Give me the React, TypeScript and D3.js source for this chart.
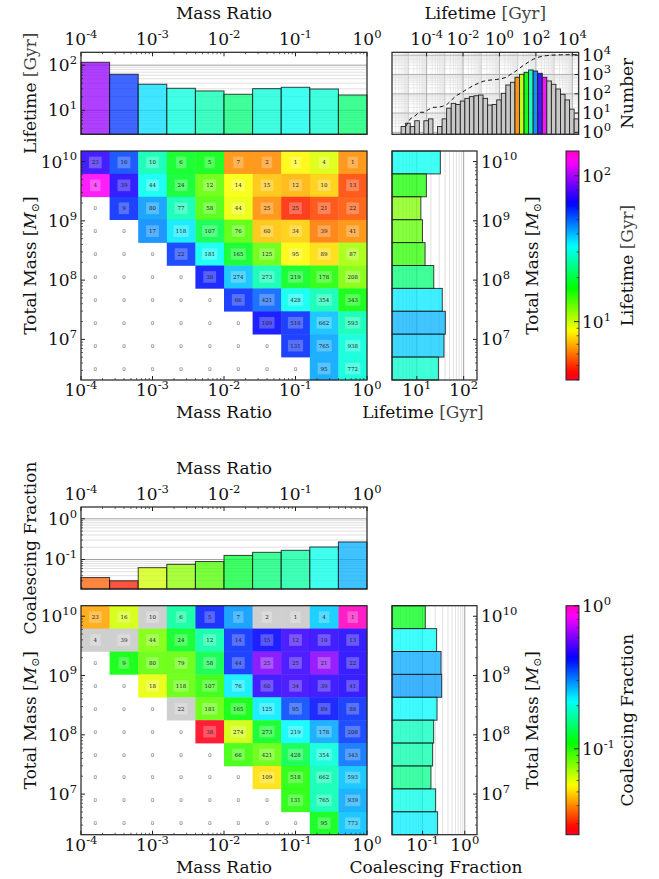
import React from "react";
import * as d3 from "d3";

// ---------------- data ----------------
const massRatioTickExps = [-4, -3, -2, -1, 0];
const massTickExps = [7, 8, 9, 10];
const lifetimeTickExps = [1, 2];
const coalTickExps = [-1, 0];
const histXTickExps = [-4, -2, 0, 2, 4];
const histYTickExps = [0, 1, 2, 3, 4];

// axis limits (log10)
const massRatioLog = [-4, 0];
const massLog = [6.315, 10.178];
const lifetimeAxisLog = [0.47, 2.285];
const lifetimeCbarLog = [0.6, 2.17];
const coalAxisLog = [-1.725, 0.29];
const coalCbarLog = [-1.6, 0];
const histXLog = [-5.9, 4.35];
const histYLog = [-0.1, 4.15];

// rows: top = highest total mass
const countsLifetime = [
  [23, 16, 10, 6, 5, 7, 2, 1, 4, 1],
  [4, 39, 44, 24, 12, 14, 15, 12, 10, 13],
  [0, 9, 80, 77, 58, 44, 25, 25, 21, 22],
  [0, 0, 17, 118, 107, 76, 60, 34, 39, 41],
  [0, 0, 0, 22, 181, 165, 125, 95, 89, 87],
  [0, 0, 0, 0, 38, 274, 273, 219, 178, 208],
  [0, 0, 0, 0, 0, 66, 421, 428, 354, 343],
  [0, 0, 0, 0, 0, 0, 109, 518, 662, 593],
  [0, 0, 0, 0, 0, 0, 0, 131, 765, 938],
  [0, 0, 0, 0, 0, 0, 0, 0, 95, 772],
];
const countsCoal = [
  [23, 16, 10, 6, 5, 7, 2, 1, 4, 1],
  [4, 39, 44, 24, 12, 14, 15, 12, 10, 13],
  [0, 9, 80, 79, 58, 44, 25, 25, 21, 22],
  [0, 0, 18, 118, 107, 76, 60, 34, 39, 41],
  [0, 0, 0, 22, 181, 165, 125, 95, 89, 88],
  [0, 0, 0, 0, 38, 274, 273, 219, 178, 208],
  [0, 0, 0, 0, 0, 66, 421, 428, 354, 343],
  [0, 0, 0, 0, 0, 0, 109, 518, 662, 593],
  [0, 0, 0, 0, 0, 0, 0, 131, 765, 939],
  [0, 0, 0, 0, 0, 0, 0, 0, 95, 773],
];
// lifetime [Gyr] per cell (null = empty)
const lifetimeGrid: (number | null)[][] = [
  [72, 54, 27, 18.2, 17.5, 6.4, 6.4, 8.5, 9.5, 6.4],
  [128, 69, 32, 18.8, 13.1, 8.8, 7.4, 7.1, 7.6, 5.3],
  [null, 58, 43, 27, 14.1, 9.1, 6.4, 4.9, 5.3, 5.5],
  [null, null, 45, 35, 20.3, 13.6, 7.4, 7.6, 6.1, 6.4],
  [null, null, null, 56, 32, 18.2, 13.1, 8.5, 7.9, 11],
  [null, null, null, null, 62, 39, 27, 18.2, 15.7, 12.2],
  [null, null, null, null, null, 58, 50, 32, 27, 16.9],
  [null, null, null, null, null, null, 64, 58, 39, 27],
  [null, null, null, null, null, null, null, 58, 42, 30],
  [null, null, null, null, null, null, null, null, 42, 30],
];
// coalescing fraction per cell (null = empty, 0 = none coalesce)
const coalGrid: (number | null)[][] = [
  [0.0435, 0.0625, 0, 0.167, 0.4, 0.286, 0, 0, 0.25, 1.0],
  [0, 0, 0.079, 0.118, 0.171, 0.384, 0.429, 0.497, 0.479, 0.461],
  [null, 0.11, 0.085, 0.085, 0.132, 0.384, 0.597, 0.497, 0.62, 0.461],
  [null, null, 0.059, 0.085, 0.098, 0.229, 0.479, 0.497, 0.479, 0.461],
  [null, null, null, 0, 0.085, 0.11, 0.229, 0.356, 0.413, 0.384],
  [null, null, null, null, 0.0263, 0.063, 0.118, 0.221, 0.275, 0.37],
  [null, null, null, null, null, 0.095, 0.085, 0.132, 0.198, 0.319],
  [null, null, null, null, null, null, 0.051, 0.102, 0.177, 0.256],
  [null, null, null, null, null, null, null, 0.102, 0.177, 0.275],
  [null, null, null, null, null, null, null, null, 0.114, 0.256],
];
const lifetimeByRatio = [116, 63, 37.8, 30.8, 26.9, 22.7, 30.2, 32.4, 29.7, 21.9];
const lifetimeByMass = [31.8, 16, 12.2, 13.2, 15, 23, 35, 40.6, 38, 28.9];
const coalByRatio = [0.036, 0.03, 0.063, 0.076, 0.089, 0.126, 0.15, 0.168, 0.203, 0.27];
const coalByMass = [0.116, 0.215, 0.274, 0.283, 0.22, 0.183, 0.173, 0.158, 0.204, 0.227];

// lifetime histogram (log10 bins)
const histBinStartLog = -5.4;
const histBinWidthLog = 0.25;
const histCounts = [2, 3, 2, 4, 0, 4, 5, 0, 2, 5, 18, 32, 28, 42, 58, 71, 79, 86, 58, 26, 28, 48, 106, 286, 394,
  717, 1024, 1300, 1711, 1515, 1154, 717, 460, 310, 177, 94, 48, 16, 5];
const histColorLog = [0.73, 2.58];

// ---------------- helpers ----------------
const FONT = "DejaVu Serif, serif";
const FS = 17;
const stops: [number, number[]][] = [
  [0, [1, 0, 0.16]], [0.03, [1, 0, 0]], [0.215, [1, 1, 0]], [0.4, [0, 1, 0]],
  [0.586, [0, 1, 1]], [0.77, [0, 0, 1]], [0.954, [1, 0, 1]], [1, [1, 0, 0.75]],
];
function rainbow(t: number) {
  t = Math.max(0, Math.min(1, t));
  for (let i = 1; i < stops.length; i++) {
    if (t <= stops[i][0]) {
      const [t0, c0] = stops[i - 1];
      const [t1, c1] = stops[i];
      const f = (t - t0) / (t1 - t0);
      const c = c0.map((v, k) => Math.round(255 * (v + (c1[k] - v) * f)));
      return `rgb(${c[0]},${c[1]},${c[2]})`;
    }
  }
  return "rgb(255,0,191)";
}
const p10 = (e: number) => Math.pow(10, e);
function minors(lo: number, hi: number) {
  const out: number[] = [];
  for (let k = Math.floor(lo); k <= Math.ceil(hi); k++)
    for (let m = 2; m <= 9; m++) {
      const v = Math.log10(m) + k;
      if (v > lo && v < hi) out.push(p10(v));
    }
  return out;
}
function decades(lo: number, hi: number) {
  const out: number[] = [];
  for (let k = Math.ceil(lo); k <= Math.floor(hi); k++) out.push(p10(k));
  return out;
}

function Pow10({ x, y, e, anchor = "middle", size = FS }: any) {
  return (
    <text x={x} y={y} textAnchor={anchor} fontFamily={FONT} fontSize={size} fill="#111">
      <tspan>10</tspan>
      <tspan dy={-size * 0.42} fontSize={size * 0.68}>{e < 0 ? "-" + -e : String(e)}</tspan>
    </text>
  );
}
function VLabel({ x, y, children }: any) {
  return (
    <text transform={`translate(${x},${y}) rotate(-90)`} textAnchor="middle" fontFamily={FONT} fontSize={FS} fill="#111">
      {children}
    </text>
  );
}
const gyr = <tspan fill="#444">[Gyr]</tspan>;
const msun = (
  <>
    <tspan>[</tspan>
    <tspan fontStyle="italic">M</tspan>
    <tspan dy={3} fontSize={11}>⊙</tspan>
    <tspan dy={-3}>]</tspan>
  </>
);

// ---------------- panel ----------------
function Panel({ kind, off }: { kind: "life" | "coal"; off: number }) {
  const life = kind === "life";
  const counts = life ? countsLifetime : countsCoal;
  const grid = life ? lifetimeGrid : coalGrid;
  const byRatio = life ? lifetimeByRatio : coalByRatio;
  const byMass = life ? lifetimeByMass : coalByMass;
  const vAx = life ? lifetimeAxisLog : coalAxisLog;
  const cAx = life ? lifetimeCbarLog : coalCbarLog;
  const barNorm = life ? lifetimeAxisLog : coalCbarLog;
  const vTicks = life ? lifetimeTickExps : coalTickExps;
  const valueLabel = life ? <>Lifetime {gyr}</> : <>Coalescing Fraction</>;

  const L = 81, R = 367;
  const bT = 52.3 + off, bB = 134.3 + off;
  const hT = 151 + off, hB = 380 + off;
  const rL = 392, rR = 477;
  const cL = 566, cR = 579;

  const xMR = d3.scaleLog().domain([p10(massRatioLog[0]), p10(massRatioLog[1])]).range([L, R]);
  const yV = d3.scaleLog().domain([p10(vAx[0]), p10(vAx[1])]).range([bB, bT]);
  const yM = d3.scaleLog().domain([p10(massLog[0]), p10(massLog[1])]).range([hB, hT]);
  const xV = d3.scaleLog().domain([p10(vAx[0]), p10(vAx[1])]).range([rL, rR]);
  const yC = d3.scaleLog().domain([p10(cAx[0]), p10(cAx[1])]).range([hB, hT]);
  const norm = (v: number) => (Math.log10(v) - cAx[0]) / (cAx[1] - cAx[0]);
  const normBar = (v: number) => (Math.log10(v) - barNorm[0]) / (barNorm[1] - barNorm[0]);

  const nC = 10, nR = 10;
  const colEdge = (i: number) => xMR(p10(massRatioLog[0] + ((massRatioLog[1] - massRatioLog[0]) * i) / nC));
  const rowEdge = (i: number) => yM(p10(massLog[1] - ((massLog[1] - massLog[0]) * i) / nR));

  const vDec = decades(vAx[0], vAx[1]);
  const vMin = minors(vAx[0], vAx[1]);
  const cDec = decades(cAx[0], cAx[1]);
  const cMin = minors(cAx[0], cAx[1]);
  const mrMin = minors(massRatioLog[0], massRatioLog[1]);
  const mMin = minors(massLog[0], massLog[1]);

  const gradId = "grad-" + kind;
  const gStops = d3.range(0, 1.0001, 0.02);

  return (
    <g>
      {/* ---------- top bar chart ---------- */}
      {vMin.map((v, i) => (
        <line key={"gm" + i} x1={L} x2={R} y1={yV(v)} y2={yV(v)} stroke="#d8d8d8" strokeWidth={0.8} />
      ))}
      {vDec.map((v, i) => (
        <line key={"gd" + i} x1={L} x2={R} y1={yV(v)} y2={yV(v)} stroke="#999" strokeWidth={0.9} />
      ))}
      {byRatio.map((v, i) => (
        <rect key={"b" + i} x={colEdge(i)} y={yV(v)} width={colEdge(i + 1) - colEdge(i)} height={bB - yV(v)}
          fill={rainbow(normBar(v))} fillOpacity={0.75} stroke="#111" strokeOpacity={0.8} strokeWidth={1} />
      ))}
      <rect x={L} y={bT} width={R - L} height={bB - bT} fill="none" stroke="#222" strokeWidth={1.2} />
      {vDec.map((v, i) => (
        <line key={"yt" + i} x1={L} x2={L + 4} y1={yV(v)} y2={yV(v)} stroke="#222" />
      ))}
      {vMin.map((v, i) => (
        <line key={"ytm" + i} x1={L} x2={L + 2} y1={yV(v)} y2={yV(v)} stroke="#222" strokeWidth={0.7} />
      ))}
      {massRatioTickExps.map((e) => (
        <line key={"xt" + e} x1={xMR(p10(e))} x2={xMR(p10(e))} y1={bT} y2={bT + 4} stroke="#222" />
      ))}
      {mrMin.map((v, i) => (
        <line key={"xtm" + i} x1={xMR(v)} x2={xMR(v)} y1={bT} y2={bT + 2} stroke="#222" strokeWidth={0.7} />
      ))}
      {vTicks.map((e) => (
        <Pow10 key={"yl" + e} x={77} y={yV(p10(e)) + 6} e={e} anchor="end" />
      ))}
      {massRatioTickExps.map((e) => (
        <Pow10 key={"xl" + e} x={xMR(p10(e))} y={45 + off} e={e} />
      ))}
      <text x={(L + R) / 2} y={19 + off} textAnchor="middle" fontFamily={FONT} fontSize={FS} fill="#111">Mass Ratio</text>
      <VLabel x={36} y={(bT + bB) / 2}>{valueLabel}</VLabel>

      {/* ---------- heatmap ---------- */}
      {grid.map((row, r) =>
        row.map((v, c) => {
          if (v === null) return null;
          const fill = v === 0 ? "#c8c8c8" : rainbow(norm(v));
          return (
            <rect key={`h${r}-${c}`} x={colEdge(c)} y={rowEdge(r)} width={colEdge(c + 1) - colEdge(c) + 0.3}
              height={rowEdge(r + 1) - rowEdge(r) + 0.3} fill={fill} fillOpacity={0.88} />
          );
        })
      )}
      {counts.map((row, r) =>
        row.map((n, c) => {
          const cx = (colEdge(c) + colEdge(c + 1)) / 2;
          const cy = (rowEdge(r) + rowEdge(r + 1)) / 2;
          const s = String(n);
          const bw = 8 + 2.4 * s.length;
          return (
            <g key={`t${r}-${c}`}>
              {n > 0 && <rect x={cx - bw / 2} y={cy - 5.8} width={bw} height={11.6} fill="#fff" fillOpacity={0.25} />}
              <text x={cx} y={cy + 2} textAnchor="middle" fontFamily={FONT} fontSize={5.5} fill={n > 0 ? "#222" : "#666"}>{s}</text>
            </g>
          );
        })
      )}
      <rect x={L} y={hT} width={R - L} height={hB - hT} fill="none" stroke="#222" strokeWidth={1.2} />
      {massTickExps.map((e) => (
        <g key={"my" + e}>
          <line x1={L} x2={L + 4} y1={yM(p10(e))} y2={yM(p10(e))} stroke="#222" />
          <Pow10 x={77} y={yM(p10(e)) + 6} e={e} anchor="end" />
        </g>
      ))}
      {mMin.map((v, i) => (
        <line key={"mym" + i} x1={L} x2={L + 2} y1={yM(v)} y2={yM(v)} stroke="#222" strokeWidth={0.7} />
      ))}
      {massRatioTickExps.map((e) => (
        <g key={"mx" + e}>
          <line x1={xMR(p10(e))} x2={xMR(p10(e))} y1={hB} y2={hB - 4} stroke="#222" />
          <Pow10 x={xMR(p10(e))} y={396 + off} e={e} />
        </g>
      ))}
      {mrMin.map((v, i) => (
        <line key={"mxm" + i} x1={xMR(v)} x2={xMR(v)} y1={hB} y2={hB - 2} stroke="#222" strokeWidth={0.7} />
      ))}
      <text x={(L + R) / 2} y={418 + off} textAnchor="middle" fontFamily={FONT} fontSize={FS} fill="#111">Mass Ratio</text>
      <VLabel x={36} y={(hT + hB) / 2}>Total Mass {msun}</VLabel>

      {/* ---------- right bar chart ---------- */}
      {vMin.map((v, i) => (
        <line key={"rgm" + i} x1={xV(v)} x2={xV(v)} y1={hT} y2={hB} stroke="#d8d8d8" strokeWidth={0.8} />
      ))}
      {vDec.map((v, i) => (
        <line key={"rgd" + i} x1={xV(v)} x2={xV(v)} y1={hT} y2={hB} stroke="#999" strokeWidth={0.9} />
      ))}
      {byMass.map((v, r) => (
        <rect key={"rb" + r} x={rL} y={rowEdge(r)} width={xV(v) - rL} height={rowEdge(r + 1) - rowEdge(r)}
          fill={rainbow(norm(v))} fillOpacity={0.75} stroke="#111" strokeOpacity={0.8} strokeWidth={1} />
      ))}
      <rect x={rL} y={hT} width={rR - rL} height={hB - hT} fill="none" stroke="#222" strokeWidth={1.2} />
      {massTickExps.map((e) => (
        <g key={"ry" + e}>
          <line x1={rR} x2={rR - 4} y1={yM(p10(e))} y2={yM(p10(e))} stroke="#222" />
          <Pow10 x={481} y={yM(p10(e)) + 6} e={e} anchor="start" />
        </g>
      ))}
      {mMin.map((v, i) => (
        <line key={"rym" + i} x1={rR} x2={rR - 2} y1={yM(v)} y2={yM(v)} stroke="#222" strokeWidth={0.7} />
      ))}
      {vTicks.map((e) => (
        <g key={"rx" + e}>
          <line x1={xV(p10(e))} x2={xV(p10(e))} y1={hB} y2={hB - 4} stroke="#222" />
          <Pow10 x={xV(p10(e))} y={396 + off} e={e} />
        </g>
      ))}
      <text x={life ? 423 : 436} y={418 + off} textAnchor="middle" fontFamily={FONT} fontSize={FS} fill="#111">{valueLabel}</text>
      <VLabel x={538} y={(hT + hB) / 2}>Total Mass {msun}</VLabel>

      {/* ---------- colorbar ---------- */}
      <defs>
        <linearGradient id={gradId} x1="0" y1="1" x2="0" y2="0">
          {gStops.map((t, i) => (
            <stop key={i} offset={t} stopColor={rainbow(t)} />
          ))}
        </linearGradient>
      </defs>
      <rect x={cL} y={hT} width={cR - cL} height={hB - hT} fill={`url(#${gradId})`} stroke="#222" strokeWidth={1} />
      {cDec.map((v, i) => (
        <line key={"cd" + i} x1={cR} x2={cR - 5} y1={yC(v)} y2={yC(v)} stroke="#222" />
      ))}
      {cMin.map((v, i) => (
        <line key={"cm" + i} x1={cR} x2={cR - 2.5} y1={yC(v)} y2={yC(v)} stroke="#222" strokeWidth={0.7} />
      ))}
      {cDec.map((v, i) => (
        <Pow10 key={"cl" + i} x={582} y={yC(v) + 6} e={Math.round(Math.log10(v))} anchor="start" />
      ))}
      <VLabel x={633} y={(hT + hB) / 2}>{valueLabel}</VLabel>
    </g>
  );
}

// ---------------- histogram ----------------
function Histogram() {
  const L = 392, R = 578.7, T = 52.3, B = 134.3;
  const x = d3.scaleLog().domain([p10(histXLog[0]), p10(histXLog[1])]).range([L, R]);
  const y = d3.scaleLog().domain([p10(histYLog[0]), p10(histYLog[1])]).range([B, T]);
  const edges = d3.range(histCounts.length + 1).map((i) => histBinStartLog + i * histBinWidthLog);
  const cum = d3.cumsum(histCounts);
  const pts: [number, number][] = [];
  histCounts.forEach((_, i) => {
    if (cum[i] > 0) pts.push([x(p10(edges[i + 1])), y(cum[i])]);
  });
  const line = d3.line();
  const xMinor = minors(histXLog[0], histXLog[1]);
  const xDec = decades(histXLog[0], histXLog[1]);
  const yMinor = minors(histYLog[0], histYLog[1]);
  const yDec = decades(histYLog[0], histYLog[1]);
  return (
    <g>
      <defs>
        <clipPath id="hclip"><rect x={L} y={T} width={R - L} height={B - T} /></clipPath>
      </defs>
      <g clipPath="url(#hclip)">
        {xMinor.map((v, i) => (
          <line key={"xm" + i} x1={x(v)} x2={x(v)} y1={T} y2={B} stroke="#e2e2e2" strokeWidth={0.8} />
        ))}
        {yMinor.map((v, i) => (
          <line key={"ym" + i} x1={L} x2={R} y1={y(v)} y2={y(v)} stroke="#e2e2e2" strokeWidth={0.8} />
        ))}
        {xDec.map((v, i) => (
          <line key={"xd" + i} x1={x(v)} x2={x(v)} y1={T} y2={B}
            stroke={Math.round(Math.log10(v)) % 2 === 0 ? "#aaa" : "#ccc"} strokeWidth={0.9} />
        ))}
        {yDec.map((v, i) => (
          <line key={"yd" + i} x1={L} x2={R} y1={y(v)} y2={y(v)} stroke="#aaa" strokeWidth={0.9} />
        ))}
        {histCounts.map((n, i) => {
          if (n <= 0) return null;
          const c = (edges[i] + edges[i + 1]) / 2;
          const colored = c >= histColorLog[0] && c <= histColorLog[1];
          const fill = colored ? rainbow((c - histColorLog[0]) / (histColorLog[1] - histColorLog[0])) : "#c8c8c8";
          return (
            <rect key={"hb" + i} x={x(p10(edges[i]))} y={y(n)} width={x(p10(edges[i + 1])) - x(p10(edges[i]))}
              height={B - y(n)} fill={fill} fillOpacity={colored ? 0.9 : 1} stroke="#222" strokeWidth={0.9} />
          );
        })}
        <path d={line(pts) || ""} fill="none" stroke="#111" strokeWidth={1} strokeDasharray="4,3" />
      </g>
      <rect x={L} y={T} width={R - L} height={B - T} fill="none" stroke="#222" strokeWidth={1.2} />
      {histXTickExps.map((e) => (
        <g key={"hx" + e}>
          <line x1={x(p10(e))} x2={x(p10(e))} y1={T} y2={T + 4} stroke="#222" />
          <Pow10 x={x(p10(e))} y={45} e={e} />
        </g>
      ))}
      {histYTickExps.map((e) => (
        <g key={"hy" + e}>
          <line x1={R} x2={R - 4} y1={y(p10(e))} y2={y(p10(e))} stroke="#222" />
          <Pow10 x={582} y={y(p10(e)) + 6} e={e} anchor="start" />
        </g>
      ))}
      <text x={(L + R) / 2} y={19} textAnchor="middle" fontFamily={FONT} fontSize={FS} fill="#111">Lifetime {gyr}</text>
      <VLabel x={633} y={(T + B) / 2}>Number</VLabel>
    </g>
  );
}

export default function App() {
  return (
    <svg width={659} height={879} style={{ position: "absolute", left: 0, top: 0 }}>
      <rect width={659} height={879} fill="#fff" />
      <Panel kind="life" off={0} />
      <Panel kind="coal" off={454.7} />
      <Histogram />
    </svg>
  );
}
